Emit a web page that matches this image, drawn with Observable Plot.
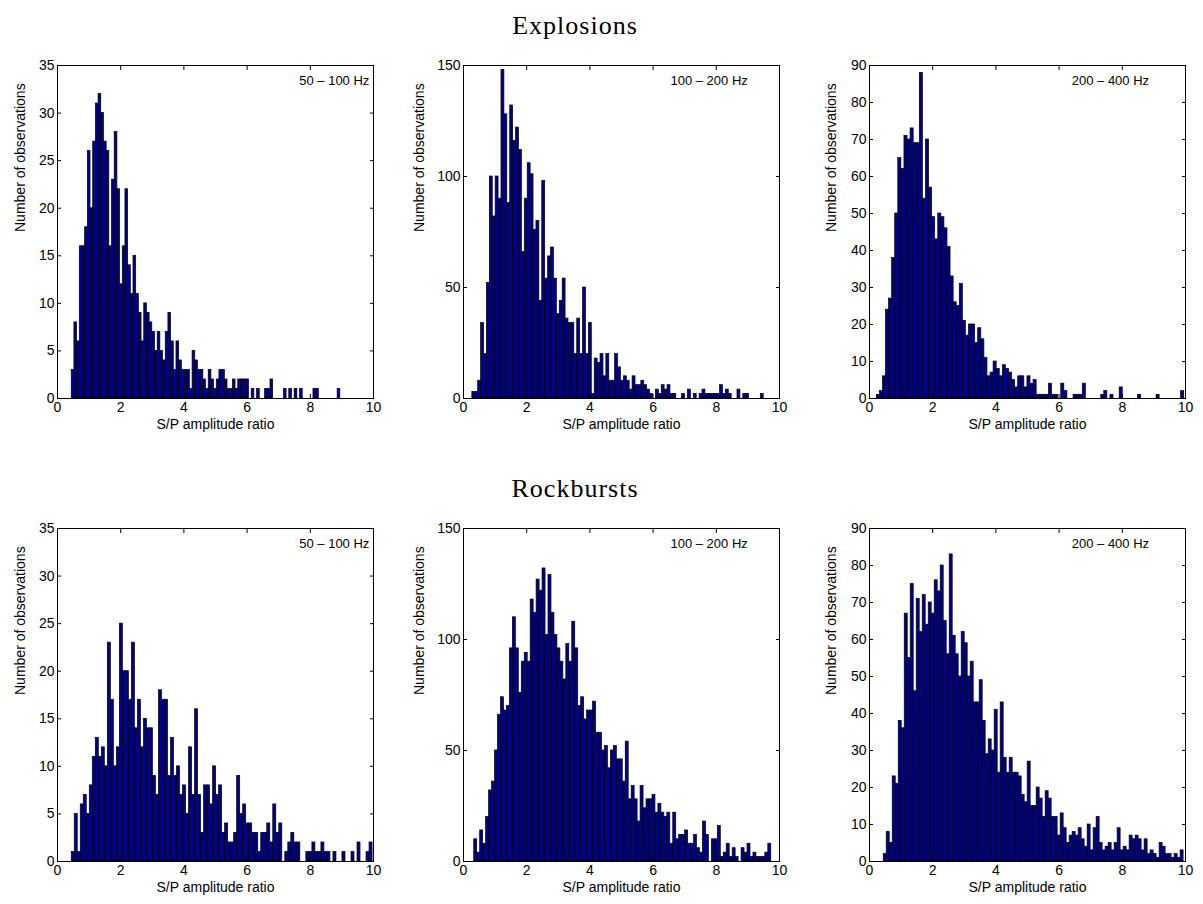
<!DOCTYPE html>
<html>
<head>
<meta charset="utf-8">
<script src="https://cdn.jsdelivr.net/npm/d3@7"></script>
<script src="https://cdn.jsdelivr.net/npm/@observablehq/plot@0.6"></script>
<style>
  html, body { margin: 0; padding: 0; background: #fff; }
  #root { position: relative; width: 1203px; height: 904px; overflow: hidden; background: #fff; }
  .title { position: absolute; font-family: "Liberation Serif", "Times New Roman", serif; font-size: 26px; letter-spacing: 1px; line-height: 26px; color: #000; white-space: nowrap; transform: translateX(-50%); }
</style>
</head>
<body>
<div id="root"></div>
<script>
// ---------- data ----------
const rowTitles = ["Explosions", "Rockbursts"];
const bandLabels = ["50 – 100 Hz", "100 – 200 Hz", "200 – 400 Hz"];
const xLabel = "S/P amplitude ratio";
const yLabel = "Number of observations";
const xTicks = [0, 2, 4, 6, 8, 10];
const yTicks35 = [0, 5, 10, 15, 20, 25, 30, 35];
const yTicks150 = [0, 50, 100, 150];
const yTicks90 = [0, 10, 20, 30, 40, 50, 60, 70, 80, 90];

// each histogram: 100 equal bins between the range ends
const explosions50Range = [0.45, 8.95];
const explosions50Counts = [3,8,6,16,16,18,26,20,27,31, 32,30,27,26,16,23,28,22,12,16, 22,14,11,15,11,9,6,10,9,8, 7,5,7,5,4,7,9,6,3,6, 4,3,3,3,1,5,4,3,3,2, 1,3,2,1,2,3,3,2,1,1, 2,1,2,2,2,2,0,1,0,1, 0,0,1,1,2,0,0,0,0,1, 0,1,0,1,0,1,0,0,0,0, 1,1,0,0,0,0,0,0,0,1];

const explosions100Range = [0.28, 9.5];
const explosions100Counts = [3,3,8,34,20,52,100,82,100,90, 148,128,88,132,116,122,112,66,90,106, 101,76,80,44,98,54,64,68,54,38, 44,54,36,34,34,20,36,20,50,20, 34,2,18,16,20,10,20,8,8,20, 14,8,10,8,4,10,6,6,8,6, 4,2,0,4,2,6,4,6,2,2, 0,0,2,0,4,0,2,0,2,4, 2,2,2,2,2,6,2,4,2,0, 0,4,0,2,2,0,0,0,0,2];

const explosions200Range = [0.23, 9.96];
const explosions200Counts = [1,2,6,24,27,38,50,65,62,71, 70,73,69,69,88,54,70,57,49,43, 50,49,46,41,33,26,25,31,21,17, 20,20,15,19,16,11,6,7,10,8, 6,9,8,7,5,3,6,6,3,6, 4,5,1,1,1,1,4,1,1,0, 4,2,0,0,1,1,1,4,0,0, 0,0,0,1,2,0,1,0,0,3, 0,0,0,0,0,1,0,0,0,0, 0,1,0,0,0,0,0,0,0,2];

const rockbursts50Range = [0.45, 9.97];
const rockbursts50Counts = [1,5,1,6,7,5,8,11,13,11, 12,10,23,17,10,12,25,20,20,17, 23,14,17,12,15,14,14,9,7,18, 17,17,9,13,9,10,7,8,5,12, 7,16,7,3,8,8,6,10,7,8, 3,4,2,2,3,9,5,6,4,4, 3,3,1,3,3,4,2,6,3,4, 0,1,2,3,2,2,0,0,1,1, 2,1,1,2,1,1,0,1,0,0, 1,0,0,1,0,2,0,0,1,2];

const rockbursts100Range = [0.34, 9.74];
const rockbursts100Counts = [10,4,14,8,20,32,36,50,66,74, 68,70,96,110,96,76,90,94,90,118, 112,127,122,132,102,129,112,102,96,90, 82,98,90,108,96,70,74,64,68,68, 72,58,58,50,52,42,50,52,46,46, 36,54,28,34,28,18,34,24,28,28, 30,22,26,22,20,22,8,22,10,12, 12,14,8,8,12,6,4,18,12,0, 10,10,16,2,4,8,2,6,2,0, 6,4,8,2,4,2,2,2,4,8];

const rockbursts200Range = [0.45, 9.94];
const rockbursts200Counts = [2,8,5,23,21,38,36,67,55,75, 46,71,62,72,64,70,67,76,73,80, 65,56,83,61,56,50,62,59,50,54, 43,43,49,38,29,33,30,41,24,43, 28,24,28,24,24,23,18,16,27,15, 15,20,17,12,19,17,12,12,7,13, 9,5,7,8,7,9,6,4,10,3, 9,12,5,3,4,5,3,5,9,3, 4,3,7,6,7,6,3,6,2,3, 2,1,5,4,2,2,1,2,1,3];

// ---------- layout & style ----------
const AX_W = 316, AX_H = 333;
const colLeft = [57, 463, 869];
const rowTop = [65, 528];
const titleCenterX = 575, titleTop = [13, 476];
const yLabelGap = [37, 44, 38];
const annX = [7.65, 6.55, 6.4];
const annYFrac = 0.955;
const M = {l: 80, r: 14, t: 14, b: 52};
const barFill = "#00008F";
const sansFont = "'Liberation Sans', Arial, Helvetica, sans-serif";

const panels = [
  {row: 0, col: 0, range: explosions50Range, counts: explosions50Counts, ymax: 35, yticks: yTicks35},
  {row: 0, col: 1, range: explosions100Range, counts: explosions100Counts, ymax: 150, yticks: yTicks150},
  {row: 0, col: 2, range: explosions200Range, counts: explosions200Counts, ymax: 90, yticks: yTicks90},
  {row: 1, col: 0, range: rockbursts50Range, counts: rockbursts50Counts, ymax: 35, yticks: yTicks35},
  {row: 1, col: 1, range: rockbursts100Range, counts: rockbursts100Counts, ymax: 150, yticks: yTicks150},
  {row: 1, col: 2, range: rockbursts200Range, counts: rockbursts200Counts, ymax: 90, yticks: yTicks90}
];

const root = document.getElementById("root");

rowTitles.forEach((t, i) => {
  const d = document.createElement("div");
  d.className = "title";
  d.textContent = t;
  d.style.left = titleCenterX + "px";
  d.style.top = titleTop[i] + "px";
  root.appendChild(d);
});

panels.forEach(p => {
  const n = p.counts.length;
  const w = (p.range[1] - p.range[0]) / n;
  const bins = p.counts
    .map((c, i) => ({x1: p.range[0] + i * w, x2: p.range[0] + (i + 1) * w, count: c}))
    .filter(d => d.count > 0);
  const blank = () => "";
  const chart = Plot.plot({
    width: AX_W + M.l + M.r,
    height: AX_H + M.t + M.b,
    marginLeft: M.l, marginRight: M.r, marginTop: M.t, marginBottom: M.b,
    x: {domain: [0, 10]},
    y: {domain: [0, p.ymax]},
    style: {fontFamily: sansFont, fontSize: "14px", color: "#000", background: "transparent", overflow: "visible"},
    marks: [
      Plot.rectY(bins, {x1: "x1", x2: "x2", y: "count", fill: barFill, stroke: "#000", strokeWidth: 0.7}),
      Plot.frame({stroke: "#000", strokeWidth: 1}),
      Plot.axisX(xTicks, {anchor: "bottom", tickSize: 0, tickPadding: 4, label: null}),
      Plot.axisX(xTicks, {anchor: "bottom", tickSize: -4, tickFormat: blank, label: null}),
      Plot.axisX(xTicks, {anchor: "top", tickSize: -4, tickFormat: blank, label: null}),
      Plot.axisY(p.yticks, {anchor: "left", tickSize: 0, tickPadding: 3, label: null}),
      Plot.axisY(p.yticks, {anchor: "left", tickSize: -4, tickFormat: blank, label: null}),
      Plot.axisY(p.yticks, {anchor: "right", tickSize: -4, tickFormat: blank, label: null}),
      Plot.text([bandLabels[p.col]], {x: annX[p.col], y: p.ymax * annYFrac, text: d => d, textAnchor: "start", fontSize: 13}),
      Plot.text([xLabel], {frameAnchor: "bottom", dy: 21, lineAnchor: "top", text: d => d}),
      Plot.text([yLabel], {frameAnchor: "left", dx: -yLabelGap[p.col], rotate: -90, text: d => d})
    ]
  });
  chart.style.position = "absolute";
  chart.style.left = (colLeft[p.col] - M.l) + "px";
  chart.style.top = (rowTop[p.row] - M.t) + "px";
  chart.style.maxWidth = "none";
  root.appendChild(chart);
});
</script>
</body>
</html>
